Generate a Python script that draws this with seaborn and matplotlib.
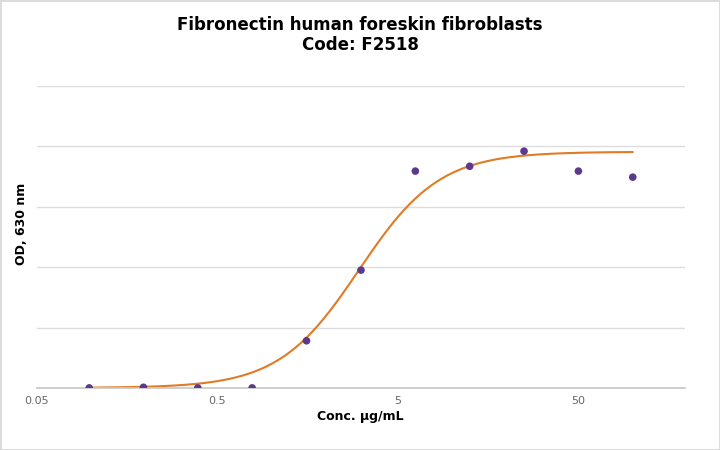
import numpy as np
import pandas as pd
import matplotlib
matplotlib.use("Agg")
import matplotlib.pyplot as plt
import seaborn as sns

# Two-fold dilution series (ug/mL) and measured OD at 630 nm
conc = [0.0977, 0.195, 0.39, 0.78, 1.56, 3.125, 6.25, 12.5, 25, 50, 100]
od = [0.0, 0.005, 0.0, 0.0, 0.39, 0.975, 1.795, 1.835, 1.96, 1.795, 1.745]

# 4-parameter logistic fit
fit_bottom = 0.0
fit_top = 1.955
fit_ec50 = 3.05
fit_hill = 1.95

yticks = [0, 0.5, 1.0, 1.5, 2.0, 2.5]
xticks = [0.05, 0.5, 5, 50]
xtick_labels = ["0.05", "0.5", "5", "50"]

df = pd.DataFrame({"conc": conc, "od": od})

xs = np.logspace(np.log10(conc[0]), np.log10(conc[-1]), 300)
fit = pd.DataFrame({
    "conc": xs,
    "od": fit_bottom + (fit_top - fit_bottom) / (1 + (fit_ec50 / xs) ** fit_hill),
})

sns.set_theme(style="white")
plt.rcParams["font.family"] = ["DejaVu Sans"]

fig = plt.figure(figsize=(7.2, 4.5), dpi=100)
fig.patch.set_edgecolor("#dcdcdc")
fig.patch.set_linewidth(2)
ax = fig.add_axes([0.051, 0.138, 0.9, 0.671])

sns.lineplot(data=fit, x="conc", y="od", ax=ax, color="#e07b26", linewidth=1.5)
sns.scatterplot(data=df, x="conc", y="od", ax=ax, color="#5b3a8c", s=30,
                edgecolor="none", zorder=3)

ax.set_xscale("log")
ax.set_xlim(0.05, 194)
ax.set_ylim(0, 2.5)
ax.set_yticks(yticks)
ax.set_yticklabels([])
ax.tick_params(axis="y", length=0)
ax.set_xticks(xticks)
ax.set_xticklabels(xtick_labels)
ax.minorticks_off()
ax.tick_params(axis="x", length=0, labelsize=8, colors="#666666", pad=6)
ax.yaxis.grid(True, color="#dddddd", linewidth=1)
for side in ["top", "right", "left"]:
    ax.spines[side].set_visible(False)
ax.spines["bottom"].set_color("#c8c8c8")

ax.set_xlabel("Conc. µg/mL", fontsize=9, fontweight="bold", labelpad=3,
              color="black")
ax.set_ylabel("OD, 630 nm", fontsize=9, fontweight="bold", color="black")
ax.yaxis.set_label_coords(-0.014, 0.543)
fig.suptitle("Fibronectin human foreskin fibroblasts\nCode: F2518",
             fontsize=12, fontweight="bold", y=0.965, linespacing=1.15,
             color="black")

fig.savefig("out.png", dpi=100)
